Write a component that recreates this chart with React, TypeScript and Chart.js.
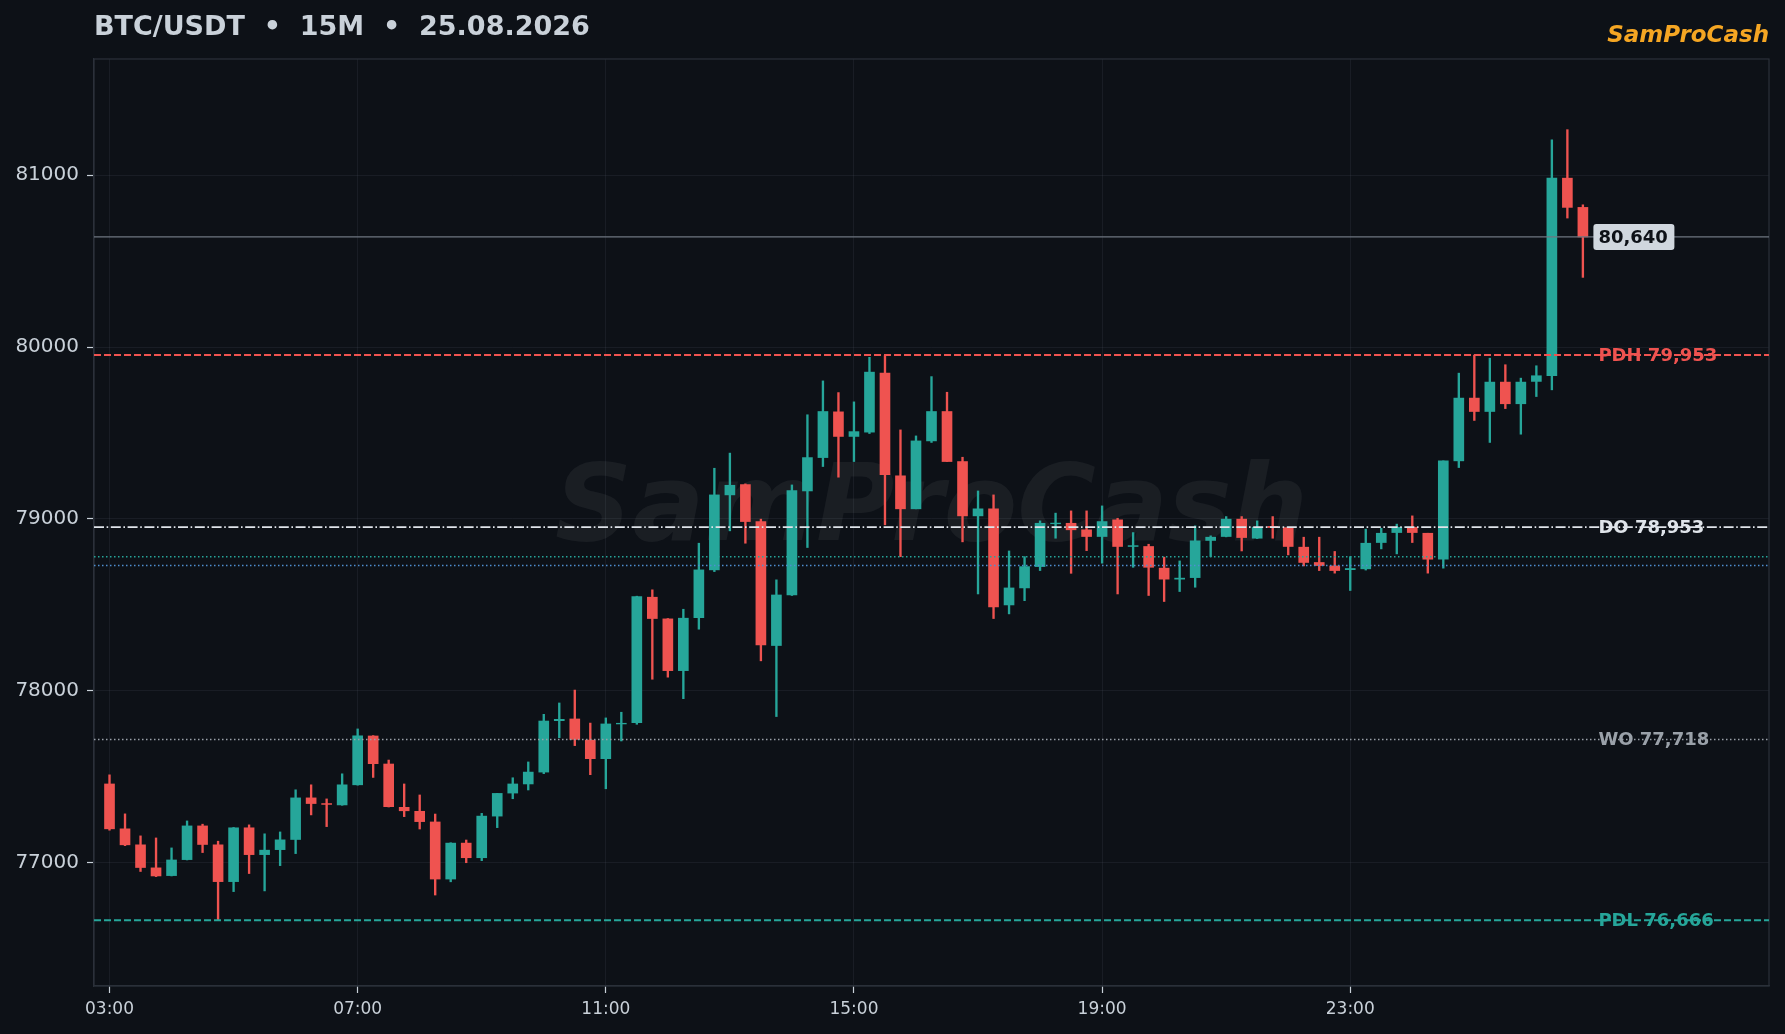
import { useEffect, useRef } from "react";
import { Chart, registerables, type ChartConfiguration, type Plugin } from "chart.js";

Chart.register(...registerables);

// 15M candles, 03:00 -> 02:45
const opens = [
  77459, 77198, 77105, 76971, 76926, 77019, 77215, 77105, 76891, 77204, 77048, 77077, 77136, 77378, 77345, 77337,
  77454, 77738, 77575, 77323, 77300, 77238, 76906, 77115, 77030, 77272, 77406, 77459, 77528, 77827, 77837, 77714,
  77606, 77808, 77816, 78545, 78419, 78118, 78426, 78704, 79140, 79200, 78985, 78264, 78558, 79163, 79357, 79623,
  79480, 79505, 79848, 79251, 79059, 79454, 79625, 79334, 79018, 79059, 78500, 78599, 78723, 78972, 78975, 78937,
  78898, 78995, 78840, 78840, 78714, 78650, 78659, 78875, 78898, 78999, 78888, 78957, 78950, 78836, 78747, 78727,
  78705, 78710, 78863, 78921, 78952, 78917, 78766, 79338, 79703, 79625, 79796, 79670, 79800, 79833, 80982, 80812,
];
const highs = [
  77512, 77285, 77157, 77145, 77087, 77244, 77225, 77126, 77206, 77221, 77169, 77180, 77425, 77454, 77372, 77518,
  77779, 77740, 77598, 77459, 77395, 77284, 77117, 77133, 77288, 77404, 77495, 77587, 77864, 77930, 78005, 77813,
  77843, 77876, 78551, 78588, 78421, 78475, 78859, 79295, 79383, 79204, 78999, 78646, 79198, 79606, 79803, 79735,
  79681, 79940, 79950, 79518, 79483, 79828, 79737, 79359, 79163, 79140, 78814, 78781, 78989, 79034, 79047, 79047,
  79076, 79004, 78921, 78853, 78778, 78756, 78960, 78902, 79014, 79014, 78989, 79014, 78950, 78894, 78894, 78811,
  78781, 78941, 78946, 78970, 79018, 78917, 79338, 79848, 79953, 79935, 79897, 79819, 79891, 81205, 81264, 80827,
];
const lows = [
  77190, 77100, 76950, 76920, 76924, 77017, 77060, 76668, 76833, 76938, 76837, 76984, 77054, 77279, 77211, 77335,
  77452, 77497, 77325, 77269, 77197, 76813, 76890, 77001, 77013, 77205, 77373, 77424, 77519, 77728, 77682, 77513,
  77431, 77709, 77806, 78068, 78080, 77955, 78359, 78694, 78931, 78859, 78175, 77851, 78555, 78834, 79305, 79243,
  79334, 79497, 78966, 78781, 79059, 79445, 79334, 78867, 78564, 78421, 78448, 78525, 78700, 78888, 78684, 78816,
  78743, 78564, 78719, 78555, 78520, 78578, 78603, 78781, 78896, 78814, 78886, 78888, 78791, 78727, 78700, 78685,
  78584, 78703, 78826, 78797, 78863, 78685, 78714, 79299, 79573, 79445, 79642, 79493, 79712, 79751, 80750, 80405,
];
const closes = [
  77198, 77105, 76973, 76924, 77017, 77215, 77107, 76891, 77204, 77048, 77074, 77134, 77378, 77345, 77340, 77454,
  77739, 77577, 77327, 77303, 77240, 76906, 77115, 77030, 77272, 77404, 77459, 77528, 77825, 77835, 77718, 77606,
  77808, 77812, 78549, 78421, 78118, 78423, 78704, 79140, 79196, 78985, 78268, 78558, 79165, 79357, 79625, 79480,
  79508, 79854, 79257, 79059, 79454, 79625, 79334, 79018, 79059, 78489, 78599, 78723, 78975, 78976, 78937, 78898,
  78985, 78840, 78845, 78719, 78650, 78656, 78873, 78894, 78999, 78892, 78952, 78950, 78840, 78747, 78729, 78700,
  78712, 78859, 78917, 78952, 78921, 78766, 79338, 79703, 79625, 79796, 79670, 79796, 79833, 80982, 80812, 80640,
];

const xTickIdx = [0, 16, 32, 48, 64, 80];
const xTickLabels = ["03:00", "07:00", "11:00", "15:00", "19:00", "23:00"];
const yTicks = [77000, 78000, 79000, 80000, 81000];

const levelNames = ["PDH", "DO", "WO", "PDL"];
const levelValues = [79953, 78953, 77718, 76666];
const bandValues = [78781, 78729];
const lastPrice = 80640;

const BG = "#0d1117";
const TEXT = "#c9d1d9";
const UP = "#26a69a";
const DOWN = "#ef5350";
const FONT = "'DejaVu Sans', sans-serif";

const levelColors = [DOWN, "#dfe4ea", "#9aa1a9", UP];
const levelDashes = [[7, 3], [10, 2.6, 1.6, 2.6], [1.5, 2.5], [7, 3]];
const levelWidths = [2, 1.7, 1.5, 2];
const bandColors = [UP, "#4f8fd0"];

const X_MIN = -1;
const X_MAX = 107;
const LABEL_X = 96;

const candleColors = closes.map((c, i) => (c >= opens[i] ? UP : DOWN));

const overlay: Plugin<"bar"> = {
  id: "overlay",
  beforeDatasetsDraw(chart) {
    const { ctx, chartArea, scales } = chart;
    ctx.save();
    ctx.strokeStyle = "#2b313a";
    ctx.lineWidth = 1.2;
    ctx.strokeRect(chartArea.left, chartArea.top, chartArea.right - chartArea.left, chartArea.bottom - chartArea.top);

    ctx.font = `italic bold 107px ${FONT}`;
    ctx.fillStyle = "rgba(255,255,255,0.055)";
    ctx.textAlign = "center";
    ctx.textBaseline = "middle";
    ctx.fillText("SamProCash", (chartArea.left + chartArea.right) / 2, 512);

    ctx.font = `bold 18px ${FONT}`;
    ctx.textAlign = "left";
    const lx = scales.x.getPixelForValue(LABEL_X);
    levelNames.forEach((name, i) => {
      ctx.fillStyle = levelColors[i];
      ctx.fillText(`${name} ${levelValues[i].toLocaleString("en-US")}`, lx, scales.y.getPixelForValue(levelValues[i]) + 1);
    });
    ctx.restore();
  },
  afterDatasetsDraw(chart) {
    const { ctx, scales } = chart;
    const lx = scales.x.getPixelForValue(LABEL_X);
    const y = scales.y.getPixelForValue(lastPrice);
    ctx.save();
    ctx.fillStyle = "#d0d7de";
    ctx.beginPath();
    ctx.roundRect(lx - 5, y - 13, 81, 26, 3);
    ctx.fill();
    ctx.fillStyle = "#0d1117";
    ctx.font = `bold 18px ${FONT}`;
    ctx.textAlign = "left";
    ctx.textBaseline = "middle";
    ctx.fillText(lastPrice.toLocaleString("en-US"), lx, y + 1);
    ctx.restore();
  },
  afterDraw(chart) {
    const { ctx, chartArea } = chart;
    ctx.save();
    ctx.textBaseline = "alphabetic";
    ctx.font = `bold 27px ${FONT}`;
    ctx.fillStyle = TEXT;
    ctx.textAlign = "left";
    ctx.fillText("BTC/USDT  •  15M  •  25.08.2026", chartArea.left, 35);
    ctx.font = `italic bold 23px ${FONT}`;
    ctx.fillStyle = "#f5a623";
    ctx.textAlign = "right";
    ctx.fillText("SamProCash", chartArea.right, 42);
    ctx.restore();
  },
};

function CandleChart() {
  const canvasRef = useRef<HTMLCanvasElement | null>(null);

  useEffect(() => {
    const canvas = canvasRef.current;
    if (!canvas) return;

    const flatLine = (v: number) => [
      { x: X_MIN, y: v },
      { x: X_MAX, y: v },
    ];

    const config: ChartConfiguration<"bar"> = {
      type: "bar",
      data: {
        datasets: [
          {
            type: "line",
            data: flatLine(lastPrice),
            borderColor: "#6e7681",
            borderWidth: 1.2,
            pointRadius: 0,
            order: 0,
          } as any,
          ...levelValues.map((v, i) => ({
            type: "line",
            data: flatLine(v),
            borderColor: levelColors[i],
            borderWidth: levelWidths[i],
            borderDash: levelDashes[i],
            pointRadius: 0,
            order: 0,
          })),
          ...bandValues.map((v, i) => ({
            type: "line",
            data: flatLine(v),
            borderColor: bandColors[i],
            borderWidth: 1.5,
            borderDash: [1.5, 2.5],
            pointRadius: 0,
            order: 0,
          })),
          {
            data: opens.map((o, i) => ({ x: i, y: [o, closes[i]] })),
            backgroundColor: candleColors,
            barThickness: 10,
            grouped: false,
            borderWidth: 0,
            order: 1,
          } as any,
          {
            data: lows.map((l, i) => ({ x: i, y: [l, highs[i]] })),
            backgroundColor: candleColors,
            barThickness: 1.7,
            grouped: false,
            borderWidth: 0,
            order: 2,
          } as any,
        ],
      },
      options: {
        animation: false,
        responsive: true,
        maintainAspectRatio: false,
        layout: { padding: { top: 59, right: 16, left: 0, bottom: 0 } },
        plugins: {
          legend: { display: false },
          tooltip: { enabled: false },
        },
        scales: {
          x: {
            type: "linear",
            min: X_MIN,
            max: X_MAX,
            offset: false,
            afterBuildTicks(axis) {
              axis.ticks = xTickIdx.map((v) => ({ value: v }));
            },
            afterFit(axis) {
              axis.height = 48;
            },
            ticks: {
              color: TEXT,
              font: { family: FONT, size: 17 },
              padding: 6,
              maxRotation: 0,
              autoSkip: false,
              callback(value) {
                return xTickLabels[xTickIdx.indexOf(Number(value))];
              },
            },
            grid: {
              offset: false,
              color: "rgba(110,118,129,0.13)",
              tickColor: TEXT,
              tickLength: 7,
              tickWidth: 1.2,
            },
            border: { color: "#2b313a", width: 1.2 },
          },
          y: {
            min: 76284,
            max: 81675,
            afterBuildTicks(axis) {
              axis.ticks = yTicks.map((v) => ({ value: v }));
            },
            afterFit(axis) {
              axis.width = 94;
            },
            ticks: {
              color: TEXT,
              font: { family: FONT, size: 20 },
              padding: 8,
              callback(value) {
                return String(value);
              },
            },
            grid: {
              color: "rgba(110,118,129,0.13)",
              tickColor: TEXT,
              tickLength: 7,
              tickWidth: 1.2,
            },
            border: { color: "#2b313a", width: 1.2 },
          },
        },
      },
      plugins: [overlay],
    };

    const chart = new Chart(canvas, config);
    return () => {
      chart.destroy();
    };
  }, []);

  return <canvas ref={canvasRef} />;
}

export default function App() {
  return (
    <div style={{ position: "fixed", left: 0, top: 0, width: "100vw", height: "100vh", background: BG }}>
      <CandleChart />
    </div>
  );
}
